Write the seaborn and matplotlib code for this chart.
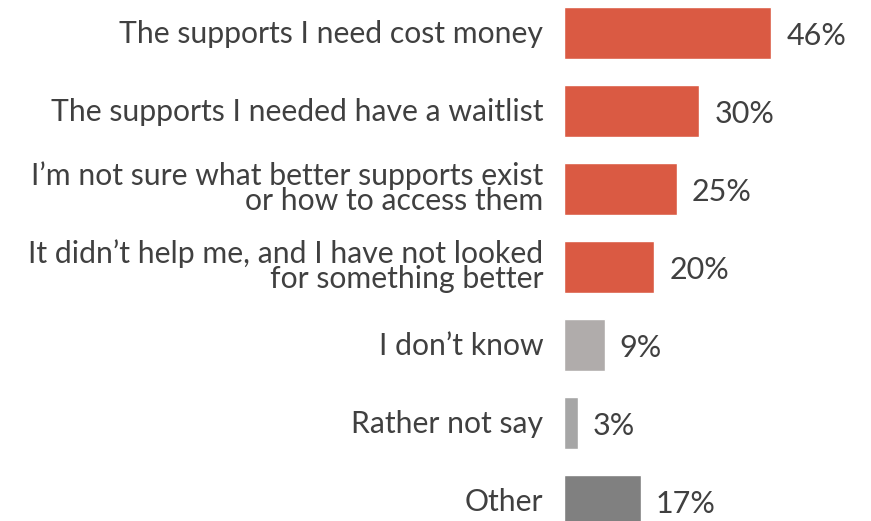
import matplotlib
matplotlib.use("Agg")
import matplotlib.pyplot as plt
import matplotlib.transforms as mtrans
import seaborn as sns
import pandas as pd

categories = [
    "The supports I need cost money",
    "The supports I needed have a waitlist",
    "I\u2019m not sure what better supports exist\nor how to access them",
    "It didn\u2019t help me, and I have not looked\nfor something better",
    "I don\u2019t know",
    "Rather not say",
    "Other",
]
values = [46, 30, 25, 20, 9, 3, 17]
colors = ["#DA5A43", "#DA5A43", "#DA5A43", "#DA5A43", "#B0ACAB", "#A6A6A6", "#808080"]

sns.set_theme(style="white")
plt.rcParams["font.family"] = ["Lato", "DejaVu Sans"]

df = pd.DataFrame({"cat": categories, "val": values})

fig = plt.figure(figsize=(8.71, 5.21), dpi=100)
ax = fig.add_axes([564 / 871, 0, 270 / 871, 1])
sns.barplot(data=df, y="cat", x="val", hue="cat", palette=colors, orient="h",
            width=0.667, legend=False, ax=ax, saturation=1)

ax.set_xlim(0, 60)
ax.set_ylim(6 + 20 / 78, -33 / 78)
ax.set_xlabel("")
ax.set_ylabel("")
ax.set_xticks([])
for s in ax.spines.values():
    s.set_visible(False)
ax.tick_params(axis="y", length=0, pad=15, labelsize=21.7, labelcolor="#404040")
shift = mtrans.ScaledTranslation(0, 2 / 100, fig.dpi_scale_trans)
for lab in ax.get_yticklabels():
    lab.set_linespacing(0.88)
    lab.set_horizontalalignment("right")
    lab.set_transform(lab.get_transform() + shift)

for c in ax.containers:
    anns = ax.bar_label(c, fmt="%d%%", padding=11, fontsize=22, color="#404040")
    for a in anns:
        a.xyann = (11, -2.5)

fig.savefig("out.png", dpi=100)
